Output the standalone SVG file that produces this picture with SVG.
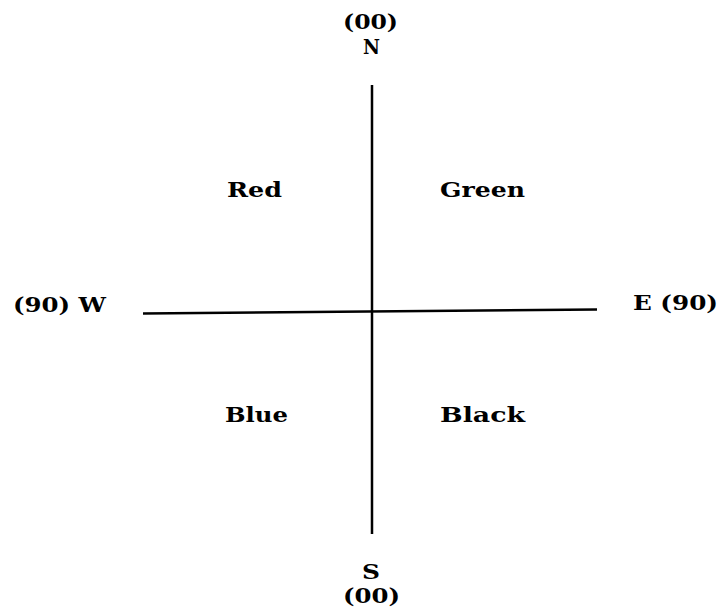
<svg xmlns="http://www.w3.org/2000/svg" width="721" height="613" viewBox="0 0 721 613">
<style>
text { font-family: "DejaVu Serif", "Liberation Serif", serif; font-weight: bold; font-size: 20px; fill: #000; }
.axis { stroke: #000; stroke-width: 2.5; fill: none; }
</style>
<rect width="721" height="613" fill="#fff"/>
<g id="connectors">
<line class="axis" x1="372" y1="85" x2="372" y2="534"/>
<line class="axis" x1="143" y1="313.5" x2="597" y2="309.5"/>
</g>
<g id="north">
<text x="343" y="29" textLength="55" lengthAdjust="spacingAndGlyphs">(00)</text>
<text x="363" y="54" textLength="17" lengthAdjust="spacingAndGlyphs">N</text>
</g>
<g id="south">
<text x="362" y="579" textLength="18" lengthAdjust="spacingAndGlyphs">S</text>
<text x="343" y="603" textLength="57" lengthAdjust="spacingAndGlyphs">(00)</text>
</g>
<g id="west">
<text x="13" y="312" textLength="93" lengthAdjust="spacingAndGlyphs">(90) W</text>
</g>
<g id="east">
<text x="633" y="310" textLength="85" lengthAdjust="spacingAndGlyphs">E (90)</text>
</g>
<g id="red"><text x="227" y="197" textLength="55" lengthAdjust="spacingAndGlyphs">Red</text></g>
<g id="green"><text x="440" y="197" textLength="85" lengthAdjust="spacingAndGlyphs">Green</text></g>
<g id="blue"><text x="225" y="422" textLength="63" lengthAdjust="spacingAndGlyphs">Blue</text></g>
<g id="black"><text x="440" y="422" textLength="85" lengthAdjust="spacingAndGlyphs">Black</text></g>
</svg>
